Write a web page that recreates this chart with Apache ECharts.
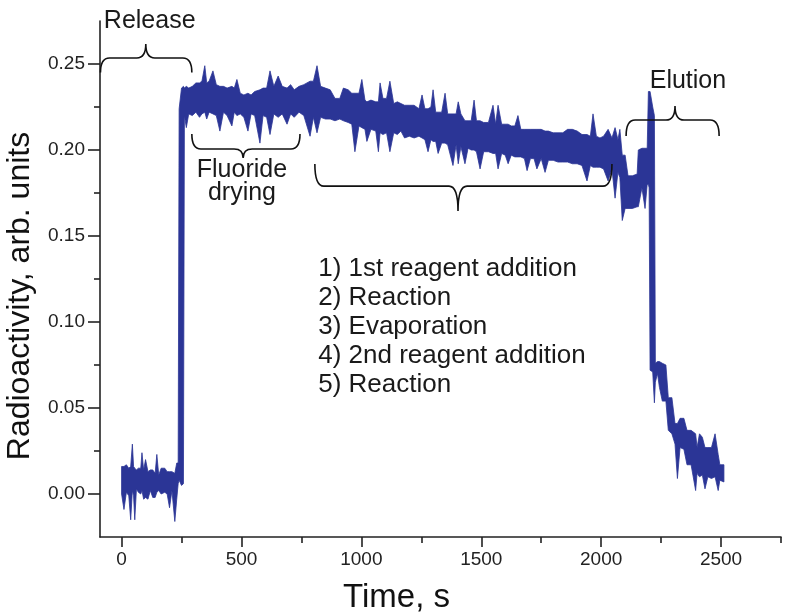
<!DOCTYPE html>
<html><head><meta charset="utf-8">
<script src="https://cdn.jsdelivr.net/npm/echarts@6/dist/echarts.min.js"></script>
<style>html,body{margin:0;padding:0;background:#fff}#c{width:800px;height:615px}</style>
</head><body><div id="c"></div>
<script>
// ---- data ----
const time = [
 0,10,20,30,38,45,50,55,62,70,
 80,85,92,100,110,120,130,140,147,155,
 165,180,190,200,210,222,230,236,240,250,
 258,262,270,280,295,310,325,335,347,355,
 365,381,395,410,425,440,460,470,481,495,
 510,527,540,555,577,590,605,619,635,653,
 670,690,705,720,740,760,786,800,815,830,
 850,870,890,910,925,945,960,973,990,1002,
 1015,1023,1040,1060,1071,1078,1090,1105,1119,1135,
 1150,1165,1180,1200,1220,1240,1253,1265,1278,1290,
 1299,1310,1320,1335,1349,1360,1382,1395,1404,1415,
 1432,1445,1458,1470,1480,1495,1510,1530,1549,1560,
 1570,1585,1600,1612,1625,1640,1653,1665,1680,1691,
 1705,1720,1732,1750,1766,1780,1800,1820,1840,1860,
 1880,1900,1920,1941,1955,1966,1980,1995,2010,2029,
 2045,2058,2070,2078,2088,2100,2112,2130,2150,2155,
 2170,2183,2192,2197,2200,2204,2215,2222,2226,2235,
 2243,2255,2270,2280,2295,2308,2318,2329,2345,2358,
 2375,2394,2400,2410,2422,2433,2445,2460,2475,2488,
 2495,2512];
const upper = [
 .016,.016,.017,.015,.016,.029,.016,.015,.014,.015,
 .015,.024,.014,.020,.013,.014,.014,.012,.023,.011,
 .015,.015,.013,.013,.013,.012,.018,.018,.224,.236,
 .237,.236,.237,.236,.237,.239,.239,.240,.249,.239,
 .240,.246,.238,.237,.237,.236,.237,.236,.241,.233,
 .232,.233,.232,.234,.235,.236,.236,.246,.237,.243,
 .237,.236,.238,.235,.237,.238,.240,.240,.249,.237,
 .236,.235,.230,.230,.236,.235,.233,.233,.233,.241,
 .229,.228,.229,.228,.228,.239,.230,.230,.240,.227,
 .228,.227,.226,.226,.226,.224,.232,.224,.224,.225,
 .235,.222,.222,.222,.233,.221,.221,.221,.228,.221,
 .217,.217,.217,.229,.217,.217,.216,.216,.226,.215,
 .226,.215,.215,.215,.214,.214,.220,.212,.212,.212,
 .212,.212,.212,.212,.211,.211,.210,.210,.210,.212,
 .212,.211,.209,.209,.208,.221,.208,.207,.208,.212,
 .207,.213,.206,.212,.197,.197,.185,.185,.186,.200,
 .201,.201,.201,.234,.234,.234,.225,.220,.076,.077,
 .077,.076,.075,.056,.056,.041,.041,.044,.044,.037,
 .037,.035,.027,.035,.033,.027,.027,.027,.035,.023,
 .017,.017];
const lower = [
 .000,-.009,.001,-.001,-.015,.002,-.001,-.015,.003,.001,
 .000,.002,-.003,-.002,-.003,.002,-.002,-.002,.001,.002,
 .000,.001,.000,-.008,.002,-.016,-.003,.006,.008,.005,
 .006,.220,.213,.221,.220,.222,.219,.221,.222,.218,
 .222,.221,.220,.211,.222,.220,.214,.222,.220,.221,
 .219,.211,.221,.220,.204,.220,.219,.209,.221,.219,
 .221,.215,.221,.219,.222,.220,.208,.219,.210,.219,
 .218,.218,.217,.218,.217,.216,.215,.199,.214,.213,
 .212,.205,.212,.211,.199,.210,.209,.210,.199,.210,
 .209,.211,.207,.208,.207,.208,.207,.206,.199,.206,
 .205,.205,.198,.204,.204,.203,.191,.203,.192,.202,
 .192,.201,.200,.200,.199,.189,.199,.199,.198,.198,
 .189,.198,.197,.192,.197,.196,.196,.196,.195,.188,
 .195,.195,.189,.195,.187,.194,.194,.193,.193,.193,
 .192,.192,.191,.182,.191,.190,.190,.190,.189,.182,
 .189,.172,.187,.184,.159,.166,.166,.166,.167,.167,
 .178,.166,.180,.180,.178,.072,.071,.053,.065,.070,
 .062,.054,.054,.037,.035,.029,.009,.027,.026,.017,
 .017,.002,.012,.010,.011,.003,.010,.009,.010,.002,
 .008,.007];

const xTickValues = [0, 500, 1000, 1500, 2000, 2500];
const xMinorTickValues = [250, 750, 1250, 1750, 2250, 2750];
const yTickValues = [0, 0.05, 0.10, 0.15, 0.20, 0.25];
const yMinorTickValues = [0.025, 0.075, 0.125, 0.175, 0.225];

// curly braces: start, end, middle (time) ; line level, tip level, end level (value)
const braceStart = [-88, 293, 806, 2104];
const braceEnd   = [293, 744, 2045, 2492];
const braceMid   = [101, 507, 1403, 2308];
const braceLine  = [0.2535, 0.2006, 0.179, 0.2174];
const braceTip   = [0.2616, 0.1953, 0.1645, 0.2256];
const braceEnds  = [0.245, 0.2093, 0.1919, 0.2081];

// annotation texts
const noteText = ['Release', 'Fluoride', 'drying', 'Elution',
  '1) 1st reagent addition', '2) Reaction', '3) Evaporation', '4) 2nd reagent addition', '5) Reaction'];
const noteX = [-74, 502, 502, 2362, 820, 820, 820, 820, 820];
const noteY = [0.2752, 0.1884, 0.1750, 0.2400, 0.1308, 0.1140, 0.0971, 0.0802, 0.0634];
const noteAlign = ['left', 'center', 'center', 'center', 'left', 'left', 'left', 'left', 'left'];
const noteSize = [25, 25, 25, 25, 26, 26, 26, 26, 26];

// ---- chart ----
const BLUE = '#2b3596';
const FONT = 'Liberation Sans, Arial, sans-serif';
const chart = echarts.init(document.getElementById('c'), null, {renderer: 'canvas'});

const bandData = time.map((t, i) => [t, upper[i], lower[i]]);
const braceData = braceStart.map((s, i) => [s, braceEnd[i], braceMid[i], braceLine[i], braceTip[i], braceEnds[i]]);
const noteData = noteX.map((x, i) => [x, noteY[i], i]);

const axisColor = '#222';
chart.setOption({
  animation: false,
  backgroundColor: '#fff',
  grid: {left: 100, top: 21, width: 681, height: 516, containLabel: false, outerBoundsMode: 'none'},
  xAxis: [{
    type: 'value', min: -90, max: 2750, position: 'bottom',
    axisLine: {show: true, onZero: false, lineStyle: {color: axisColor, width: 1.6}},
    axisTick: {show: true, customValues: xTickValues, length: 10, lineStyle: {color: axisColor, width: 1.6}},
    axisLabel: {customValues: xTickValues, fontSize: 19, color: '#222', margin: 13, fontFamily: FONT,
      formatter: v => String(v)},
    splitLine: {show: false},
    name: 'Time, s', nameLocation: 'middle', nameGap: 44,
    nameTextStyle: {fontSize: 33, color: '#111', fontFamily: FONT, padding: [0, 88, 0, 0]}
  }, {
    type: 'value', min: -90, max: 2750, position: 'bottom',
    axisLine: {show: false, onZero: false},
    axisTick: {show: true, customValues: xMinorTickValues, length: 6, lineStyle: {color: axisColor, width: 1.6}},
    axisLabel: {show: false}, splitLine: {show: false}
  }],
  yAxis: [{
    type: 'value', min: -0.025, max: 0.275, position: 'left',
    axisLine: {show: true, onZero: false, lineStyle: {color: axisColor, width: 1.6}},
    axisTick: {show: true, customValues: yTickValues, length: 12, lineStyle: {color: axisColor, width: 1.6}},
    axisLabel: {customValues: yTickValues, fontSize: 19, color: '#222', margin: 15, fontFamily: FONT,
      formatter: v => v.toFixed(2)},
    splitLine: {show: false},
    name: 'Radioactivity, arb. units', nameLocation: 'middle', nameGap: 64,
    nameTextStyle: {fontSize: 32, color: '#111', fontFamily: FONT, padding: [0, 34, 0, 0]}
  }, {
    type: 'value', min: -0.025, max: 0.275, position: 'left',
    axisLine: {show: false, onZero: false},
    axisTick: {show: true, customValues: yMinorTickValues, length: 6, lineStyle: {color: axisColor, width: 1.6}},
    axisLabel: {show: false}, splitLine: {show: false}
  }],
  series: [{
    type: 'custom', name: 'signal', coordinateSystem: 'cartesian2d',
    xAxisIndex: 0, yAxisIndex: 0,
    data: bandData, encode: {x: 0, y: [1, 2]},
    renderItem: function (params, api) {
      if (params.dataIndex !== 0) return null;
      const pts = [];
      for (let i = 0; i < time.length; i++) pts.push(api.coord([time[i], upper[i]]));
      for (let i = time.length - 1; i >= 0; i--) pts.push(api.coord([time[i], lower[i]]));
      return {type: 'polygon', shape: {points: pts}, style: {fill: BLUE, stroke: BLUE, lineWidth: 0.8, lineJoin: 'miter'}};
    }
  }, {
    type: 'custom', name: 'braces', coordinateSystem: 'cartesian2d', clip: false,
    data: braceData, encode: {x: [0, 1, 2], y: [3, 4, 5]},
    renderItem: function (params, api) {
      const x1 = api.value(0), x2 = api.value(1), xm = api.value(2);
      const yl = api.value(3), yt = api.value(4), ye = api.value(5);
      const A = api.coord([x1, ye]), B = api.coord([x2, ye]), M = api.coord([xm, yt]);
      const L = api.coord([x1, yl])[1];
      const r = 9;
      const d = 'M' + A[0] + ',' + A[1] +
        ' Q' + A[0] + ',' + L + ' ' + (A[0] + r) + ',' + L +
        ' L' + (M[0] - r) + ',' + L +
        ' Q' + M[0] + ',' + L + ' ' + M[0] + ',' + M[1] +
        ' Q' + M[0] + ',' + L + ' ' + (M[0] + r) + ',' + L +
        ' L' + (B[0] - r) + ',' + L +
        ' Q' + B[0] + ',' + L + ' ' + B[0] + ',' + B[1];
      return {type: 'path', shape: {pathData: d}, style: {fill: null, stroke: '#111', lineWidth: 1.6}};
    }
  }, {
    type: 'custom', name: 'notes', coordinateSystem: 'cartesian2d', clip: false,
    data: noteData, encode: {x: 0, y: 1},
    renderItem: function (params, api) {
      const i = params.dataIndex;
      const p = api.coord([noteX[i], noteY[i]]);
      return {type: 'text', x: p[0], y: p[1],
        style: {text: noteText[i], fill: '#1a1a1a', font: noteSize[i] + 'px ' + FONT,
          align: noteAlign[i], verticalAlign: 'middle', textAlign: noteAlign[i], textVerticalAlign: 'middle'}};
    }
  }]
});
</script>
</body></html>
